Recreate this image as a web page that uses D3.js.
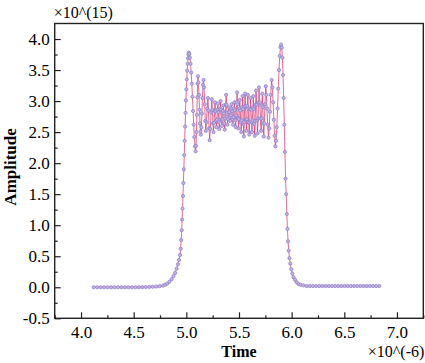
<!DOCTYPE html>
<html>
<head>
<meta charset="utf-8">
<script src="https://cdn.jsdelivr.net/npm/d3@7"></script>
<style>
  body { margin: 0; background: #fff; }
  svg text { font-family: "Liberation Serif", "Times New Roman", serif; fill: #000; }
</style>
</head>
<body>
<script>
// Time in units of 1e-6, amplitude in units of 1e15
var time = [
  4.120, 4.153, 4.186, 4.219, 4.252, 4.285, 4.318, 4.351, 4.384, 4.417, 4.450, 4.483, 4.516, 4.549, 4.582, 4.615, 4.648, 4.681, 4.714, 4.747, 4.780,
  4.800, 4.820, 4.840, 4.860, 4.878, 4.894, 4.908, 4.920, 4.930, 4.940, 4.946, 4.951, 4.956, 4.960, 4.964, 4.968, 4.972, 4.976, 4.980,
  4.984, 4.988, 4.992, 4.996, 5.000, 5.004, 5.008, 5.012, 5.016, 5.020, 5.023,
  5.028, 5.034, 5.040, 5.046, 5.052, 5.058, 5.064, 5.070, 5.076, 5.082, 5.088,
  5.092, 5.096, 5.100, 5.104, 5.107, 5.110, 5.115, 5.120, 5.125, 5.130, 5.134, 5.138,
  5.143, 5.148, 5.153, 5.158, 5.163, 5.168, 5.174, 5.180, 5.185, 5.191, 5.198, 5.205,
  5.210, 5.216, 5.221, 5.228, 5.235, 5.242, 5.247, 5.253, 5.258, 5.263, 5.268, 5.272,
  5.277, 5.282, 5.286, 5.291, 5.296, 5.300, 5.304, 5.309, 5.313, 5.317, 5.322, 5.326,
  5.330, 5.335, 5.339, 5.343, 5.348, 5.352, 5.356, 5.361, 5.365, 5.369, 5.374, 5.378,
  5.382, 5.387, 5.391, 5.395, 5.400, 5.404, 5.408, 5.413, 5.417, 5.421, 5.426, 5.430,
  5.434, 5.439, 5.443, 5.447, 5.452, 5.456, 5.460, 5.465, 5.469, 5.473, 5.478, 5.482,
  5.486, 5.491, 5.495, 5.499, 5.504, 5.508, 5.512, 5.517, 5.521, 5.525, 5.530, 5.534,
  5.538, 5.542, 5.546, 5.550, 5.554, 5.558, 5.562, 5.567, 5.571, 5.575, 5.580, 5.584,
  5.588, 5.593, 5.597, 5.601, 5.606, 5.610, 5.614, 5.619, 5.623, 5.627, 5.632, 5.636,
  5.640, 5.645, 5.649, 5.653, 5.658, 5.662, 5.667, 5.672, 5.676, 5.681, 5.686, 5.690,
  5.697, 5.704, 5.710, 5.714, 5.718, 5.722, 5.726, 5.731, 5.735, 5.741, 5.747, 5.754,
  5.760, 5.766, 5.772, 5.780, 5.787, 5.794, 5.801, 5.810, 5.817, 5.824, 5.831, 5.838, 5.845,
  5.852, 5.859, 5.866, 5.873, 5.880, 5.887, 5.894, 5.900,
  5.906, 5.912, 5.918, 5.924, 5.930, 5.936, 5.942, 5.948, 5.954, 5.960, 5.966, 5.972, 5.979, 5.987, 5.996,
  6.006, 6.018, 6.032, 6.048, 6.066, 6.086,
  6.112, 6.142, 6.172, 6.202, 6.232, 6.262, 6.292, 6.322, 6.352, 6.382, 6.412, 6.442, 6.472, 6.502, 6.532,
  6.562, 6.592, 6.622, 6.652, 6.682, 6.712, 6.742, 6.772, 6.802, 6.832
];

var amplitude = [
  0.00, 0.00, 0.00, 0.00, 0.00, 0.00, 0.00, 0.00, 0.00, 0.00, 0.00, 0.00, 0.00, 0.001, 0.002, 0.003, 0.005, 0.008, 0.012, 0.018, 0.027,
  0.04, 0.06, 0.09, 0.13, 0.18, 0.23, 0.30, 0.37, 0.44, 0.52, 0.62, 0.76, 0.92, 1.09, 1.27, 1.47, 1.68, 1.90, 2.13,
  2.36, 2.59, 2.81, 3.01, 3.19, 3.35, 3.49, 3.60, 3.69, 3.75, 3.78,
  3.76, 3.70, 3.60, 3.46, 3.28, 3.07, 2.84, 2.62, 2.42, 2.27, 2.19,
  2.28, 2.50, 2.78, 3.06, 3.28, 3.40, 3.30, 3.10, 2.86, 2.64, 2.51, 2.46,
  2.58, 2.80, 3.05, 3.26, 3.34, 3.22, 2.95, 2.68, 2.52, 2.66, 2.88, 3.05,
  2.85, 2.56, 2.37, 2.55, 2.82, 3.03, 2.86, 2.64, 2.50, 2.65, 2.84, 2.98,
  2.84, 2.68, 2.58, 2.70, 2.86, 2.96, 2.82, 2.66, 2.55, 2.70, 2.88, 3.00,
  2.86, 2.70, 2.60, 2.71, 2.84, 2.93, 2.80, 2.64, 2.54, 2.72, 2.94, 3.10,
  2.94, 2.75, 2.62, 2.71, 2.82, 2.90, 2.82, 2.74, 2.68, 2.77, 2.88, 2.95,
  2.84, 2.71, 2.62, 2.74, 2.88, 2.98, 2.85, 2.69, 2.58, 2.77, 2.98, 3.14,
  2.95, 2.73, 2.56, 2.71, 2.88, 3.02, 2.85, 2.66, 2.50, 2.69, 2.90, 3.08,
  2.87, 2.63, 2.43, 2.66, 2.91, 3.12, 2.92, 2.70, 2.52, 2.71, 2.92, 3.10,
  2.88, 2.65, 2.46, 2.66, 2.87, 3.05, 2.86, 2.66, 2.50, 2.69, 2.90, 3.08,
  2.87, 2.63, 2.44, 2.68, 2.94, 3.17, 2.94, 2.69, 2.48, 2.72, 2.98, 3.22,
  2.98, 2.72, 2.52, 2.72, 2.93, 3.12, 2.90, 2.64, 2.43, 2.64, 2.95, 3.24,
  3.10, 2.88, 2.62, 2.41, 2.56, 2.83, 3.10, 3.34, 3.22, 2.98, 2.70, 2.44, 2.27,
  2.36, 2.58, 2.88, 3.20, 3.50, 3.73, 3.87, 3.91,
  3.86, 3.70, 3.42, 3.05, 2.62, 2.18, 1.75, 1.50, 1.18, 0.94, 0.74, 0.59, 0.47, 0.38, 0.29,
  0.22, 0.16, 0.12, 0.08, 0.05, 0.04,
  0.03, 0.02, 0.02, 0.02, 0.02, 0.02, 0.02, 0.02, 0.02, 0.02, 0.02, 0.02, 0.02, 0.02, 0.02,
  0.02, 0.02, 0.02, 0.02, 0.02, 0.02, 0.02, 0.02, 0.02, 0.02
];

var xTicks = [4.0, 4.5, 5.0, 5.5, 6.0, 6.5, 7.0];
var xMinor = [3.75, 4.25, 4.75, 5.25, 5.75, 6.25, 6.75, 7.25];
var yTicks = [-0.5, 0.0, 0.5, 1.0, 1.5, 2.0, 2.5, 3.0, 3.5, 4.0];
var yMinor = [-0.25, 0.25, 0.75, 1.25, 1.75, 2.25, 2.75, 3.25, 3.75];

var data = time.map(function (t, i) { return {t: t, a: amplitude[i]}; });

var serif = "'Liberation Serif', 'Times New Roman', serif";

var margin = {top: 23.5, right: 1.7, bottom: 44.7, left: 54.7}
    , width = 425 - margin.left - margin.right
    , height = 363 - margin.top - margin.bottom;

var svg = d3.select("body").append("svg")
    .attr("width", 425)
    .attr("height", 363)
    .append("g")
    .attr("transform", "translate(" + margin.left + "," + margin.top + ")");

var x = d3.scaleLinear().domain([3.75, 7.25]).range([0, width]);
var y = d3.scaleLinear().domain([-0.5, 4.25]).range([height, 0]);

var fmt = function (d) { return d.toFixed(1); };

// major + minor ticks, pointing inwards
svg.append("g")
    .attr("class", "xaxis")
    .attr("transform", "translate(0," + height + ")")
    .call(d3.axisBottom(x).tickValues(xTicks).tickSize(-6).tickPadding(8).tickFormat(fmt));

svg.append("g")
    .attr("transform", "translate(0," + height + ")")
    .call(d3.axisBottom(x).tickValues(xMinor).tickSize(-3).tickFormat(""));

svg.append("g")
    .attr("class", "yaxis")
    .call(d3.axisLeft(y).tickValues(yTicks).tickSize(-6).tickPadding(5).tickFormat(fmt));

svg.append("g")
    .call(d3.axisLeft(y).tickValues(yMinor).tickSize(-3).tickFormat(""));

svg.selectAll("g").attr("font-family", serif).attr("font-size", 17);
svg.selectAll(".domain").remove();
svg.selectAll(".tick line").attr("stroke", "#222").attr("stroke-width", 1.2);
svg.selectAll(".tick text").attr("fill", "#000");
svg.selectAll(".xaxis .tick text").attr("dy", "0.71em");

// frame
svg.append("rect")
    .attr("width", width)
    .attr("height", height)
    .attr("fill", "none")
    .attr("stroke", "#222")
    .attr("stroke-width", 1.4);

var line = d3.line()
    .x(function (d) { return x(d.t); })
    .y(function (d) { return y(d.a); });

svg.append("path")
    .datum(data)
    .attr("fill", "none")
    .attr("stroke", "#d42a6a")
    .attr("stroke-width", 0.7)
    .attr("d", line);

svg.selectAll(".pt")
    .data(data)
    .enter().append("circle")
    .attr("class", "pt")
    .attr("cx", function (d) { return x(d.t); })
    .attr("cy", function (d) { return y(d.a); })
    .attr("r", 1.6)
    .attr("fill", "#cdb0dc")
    .attr("stroke", "#8a84cf")
    .attr("stroke-width", 0.8);

// axis titles
svg.append("text")
    .attr("x", width / 2)
    .attr("y", height + 39)
    .attr("text-anchor", "middle")
    .style("font-size", "16px")
    .style("font-weight", "bold")
    .text("Time");

svg.append("text")
    .attr("transform", "rotate(-90)")
    .attr("x", -height / 2 + 4)
    .attr("y", -39)
    .attr("text-anchor", "middle")
    .style("font-size", "17px")
    .style("font-weight", "bold")
    .text("Amplitude");

svg.append("text")
    .attr("x", -1)
    .attr("y", -6)
    .style("font-size", "16px")
    .text("\u00d710^(15)");

svg.append("text")
    .attr("x", width + 1)
    .attr("y", height + 39)
    .attr("text-anchor", "end")
    .style("font-size", "16px")
    .text("\u00d710^(-6)");
</script>
</body>
</html>
